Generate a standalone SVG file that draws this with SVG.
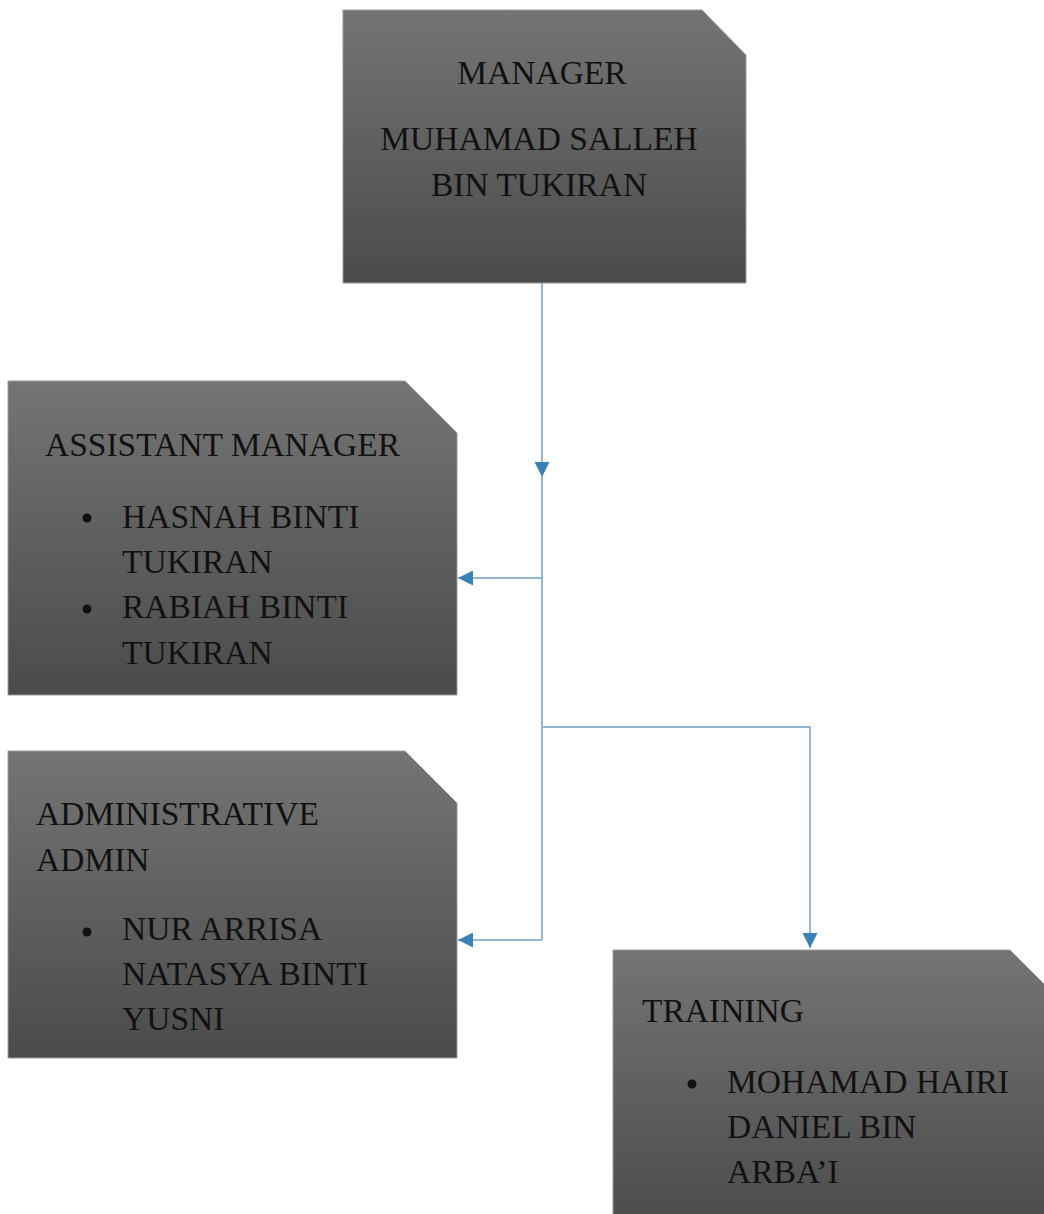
<svg xmlns="http://www.w3.org/2000/svg" width="1044" height="1214" viewBox="0 0 1044 1214">
<defs>
<linearGradient id="g" x1="0" y1="0" x2="0" y2="1">
<stop offset="0" stop-color="#747474"/>
<stop offset="1" stop-color="#4b4b4b"/>
</linearGradient>
<marker id="ah" viewBox="0 0 10 10" refX="10" refY="5" markerWidth="15" markerHeight="15" markerUnits="userSpaceOnUse" orient="auto">
<path d="M0,0 L10,5 L0,10 z" fill="#3b80b6"/>
</marker>
<style>
.box{fill:url(#g);stroke:#9a9a9a;stroke-width:1}
.t{font-family:'Liberation Serif','Times New Roman',serif;font-size:33.5px;fill:#111}
.b{fill:#111}
.c{fill:none;stroke:#92b5d2;stroke-width:2}
</style>
</defs>
<rect width="1044" height="1214" fill="#ffffff"/>
<g id="connectors">
<path class="c" d="M542,283 L542,477" marker-end="url(#ah)"/>
<path class="c" d="M542,477 L542,940"/>
<path class="c" d="M542,578 L458,578" marker-end="url(#ah)"/>
<path class="c" d="M542,940 L458,940" marker-end="url(#ah)"/>
<path class="c" d="M542,727 L810,727 L810,948" marker-end="url(#ah)"/>
</g>
<g id="manager">
<path class="box" d="M343,10 L702,10 L746,55 L746,283 L343,283 Z"/>
<text class="t" x="542" y="84" text-anchor="middle">MANAGER</text>
<text class="t" x="539" y="150" text-anchor="middle">MUHAMAD SALLEH</text>
<text class="t" x="539" y="196" text-anchor="middle">BIN TUKIRAN</text>
</g>
<g id="assistant">
<path class="box" d="M8,381 L405,381 L457,433 L457,695 L8,695 Z"/>
<text class="t" x="45" y="456">ASSISTANT MANAGER</text>
<circle class="b" cx="87" cy="518" r="4.5"/>
<text class="t" x="122" y="528">HASNAH BINTI</text>
<text class="t" x="122" y="573">TUKIRAN</text>
<circle class="b" cx="87" cy="609" r="4.5"/>
<text class="t" x="122" y="618">RABIAH BINTI</text>
<text class="t" x="122" y="664">TUKIRAN</text>
</g>
<g id="admin">
<path class="box" d="M8,751 L405,751 L457,803 L457,1058 L8,1058 Z"/>
<text class="t" x="36" y="825">ADMINISTRATIVE</text>
<text class="t" x="36" y="871">ADMIN</text>
<circle class="b" cx="87" cy="932" r="4.5"/>
<text class="t" x="122" y="940">NUR ARRISA</text>
<text class="t" x="122" y="985">NATASYA BINTI</text>
<text class="t" x="122" y="1030">YUSNI</text>
</g>
<g id="training">
<path class="box" d="M613,950 L1010,950 L1060,1000 L1060,1230 L613,1230 Z"/>
<text class="t" x="642" y="1022">TRAINING</text>
<circle class="b" cx="692" cy="1084" r="4.5"/>
<text class="t" x="727" y="1093">MOHAMAD HAIRI</text>
<text class="t" x="727" y="1138">DANIEL BIN</text>
<text class="t" x="727" y="1183">ARBA’I</text>
</g>
</svg>
